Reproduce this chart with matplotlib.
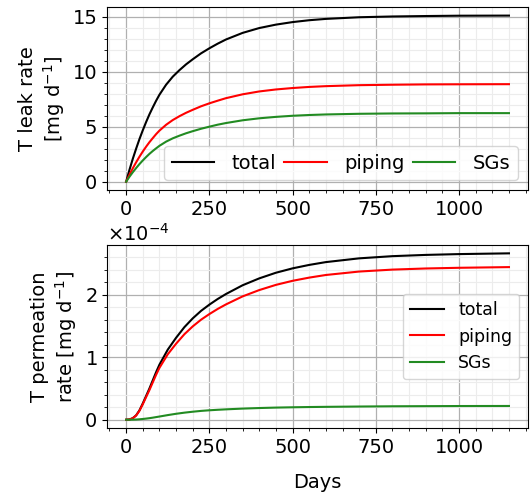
import matplotlib.pyplot as plt
from matplotlib.ticker import AutoMinorLocator

# Tritium leak rates (mg/d) vs time
leak_days = [0, 10, 20, 30, 40, 50, 60, 70, 80, 90, 100, 120, 140, 160, 180,
             200, 225, 250, 275, 300, 350, 400, 450, 500, 550, 600, 700, 800,
             900, 1000, 1150]
leak_total = [0, 1.08, 2.08, 3.0, 3.87, 4.67, 5.42, 6.12, 6.75, 7.35, 7.9,
              8.81, 9.54, 10.13, 10.66, 11.12, 11.66, 12.12, 12.54, 12.92,
              13.52, 13.96, 14.27, 14.5, 14.67, 14.79, 14.94, 15.01, 15.05,
              15.08, 15.09]
leak_piping = [0, 0.63, 1.22, 1.76, 2.27, 2.74, 3.18, 3.59, 3.96, 4.32, 4.64,
               5.17, 5.6, 5.95, 6.26, 6.53, 6.85, 7.12, 7.36, 7.59, 7.94, 8.2,
               8.38, 8.51, 8.61, 8.68, 8.77, 8.81, 8.84, 8.85, 8.86]
leak_sgs = [0, 0.45, 0.86, 1.24, 1.6, 1.93, 2.24, 2.53, 2.79, 3.03, 3.26, 3.64,
            3.94, 4.18, 4.4, 4.59, 4.81, 5.0, 5.18, 5.33, 5.58, 5.76, 5.89,
            5.99, 6.06, 6.11, 6.17, 6.2, 6.21, 6.23, 6.23]

# Tritium permeation rates (x1e-4 mg/d) vs time
perm_days = [0, 10, 20, 30, 40, 50, 60, 70, 80, 90, 100, 125, 150, 175, 200,
             225, 250, 275, 300, 350, 400, 450, 500, 550, 600, 700, 800, 900,
             1000, 1150]
perm_total = [0, 0.004, 0.025, 0.07, 0.15, 0.26, 0.38, 0.5, 0.63, 0.76, 0.88,
              1.12, 1.31, 1.48, 1.62, 1.74, 1.84, 1.93, 2.01, 2.15, 2.26, 2.35,
              2.42, 2.475, 2.52, 2.58, 2.615, 2.635, 2.648, 2.66]
perm_piping = [0, 0.004, 0.024, 0.067, 0.143, 0.248, 0.362, 0.475, 0.597,
               0.718, 0.829, 1.046, 1.215, 1.367, 1.492, 1.599, 1.689, 1.771,
               1.844, 1.972, 2.073, 2.156, 2.221, 2.272, 2.314, 2.369, 2.4,
               2.418, 2.429, 2.44]
perm_sgs = [0, 0, 0.001, 0.003, 0.007, 0.012, 0.018, 0.025, 0.033, 0.042,
            0.051, 0.074, 0.095, 0.113, 0.128, 0.141, 0.151, 0.159, 0.166,
            0.178, 0.187, 0.194, 0.199, 0.203, 0.206, 0.211, 0.215, 0.217,
            0.219, 0.22]

fig = plt.figure(figsize=(5.31, 4.96), dpi=100)
ax1 = fig.add_axes([0.2015, 0.6169, 0.793, 0.3684])
ax2 = fig.add_axes([0.2015, 0.137, 0.793, 0.369])

for ax in (ax1, ax2):
    ax.xaxis.set_minor_locator(AutoMinorLocator(5))
    ax.yaxis.set_minor_locator(AutoMinorLocator(5))
    ax.grid(which='major', color='#b0b0b0', linewidth=0.9)
    ax.grid(which='minor', color='#ececec', linewidth=0.8)
    ax.set_axisbelow(True)
    ax.tick_params(labelsize=14)
    ax.set_xticks([0, 250, 500, 750, 1000])

# Top panel: leak rate
ax1.plot(leak_days, leak_total, color='k', lw=1.5, label='total')
ax1.plot(leak_days, leak_piping, color='r', lw=1.5, label='piping')
ax1.plot(leak_days, leak_sgs, color='forestgreen', lw=1.5, label='SGs')
ax1.set_yticks([0, 5, 10, 15])
ax1.set_ylabel('T leak rate\n[mg d$^{-1}$]', fontsize=14)
ax1.legend(loc='lower right', ncol=3, fontsize=14, handlelength=2.2,
           columnspacing=0.4, handletextpad=0.9)

# Bottom panel: permeation rate
ax2.plot(perm_days, [v * 1e-4 for v in perm_total], color='k', lw=1.5, label='total')
ax2.plot(perm_days, [v * 1e-4 for v in perm_piping], color='r', lw=1.5, label='piping')
ax2.plot(perm_days, [v * 1e-4 for v in perm_sgs], color='forestgreen', lw=1.5, label='SGs')
ax2.ticklabel_format(axis='y', style='sci', scilimits=(0, 0), useMathText=True)
ax2.yaxis.get_offset_text().set_fontsize(14)
ax2.set_ylabel('T permeation\nrate [mg d$^{-1}$]', fontsize=14)
ax2.set_xlabel('Days', fontsize=14, labelpad=12)
ax2.legend(loc='center right', fontsize=12.5)

fig.savefig('out.png', dpi=100)
